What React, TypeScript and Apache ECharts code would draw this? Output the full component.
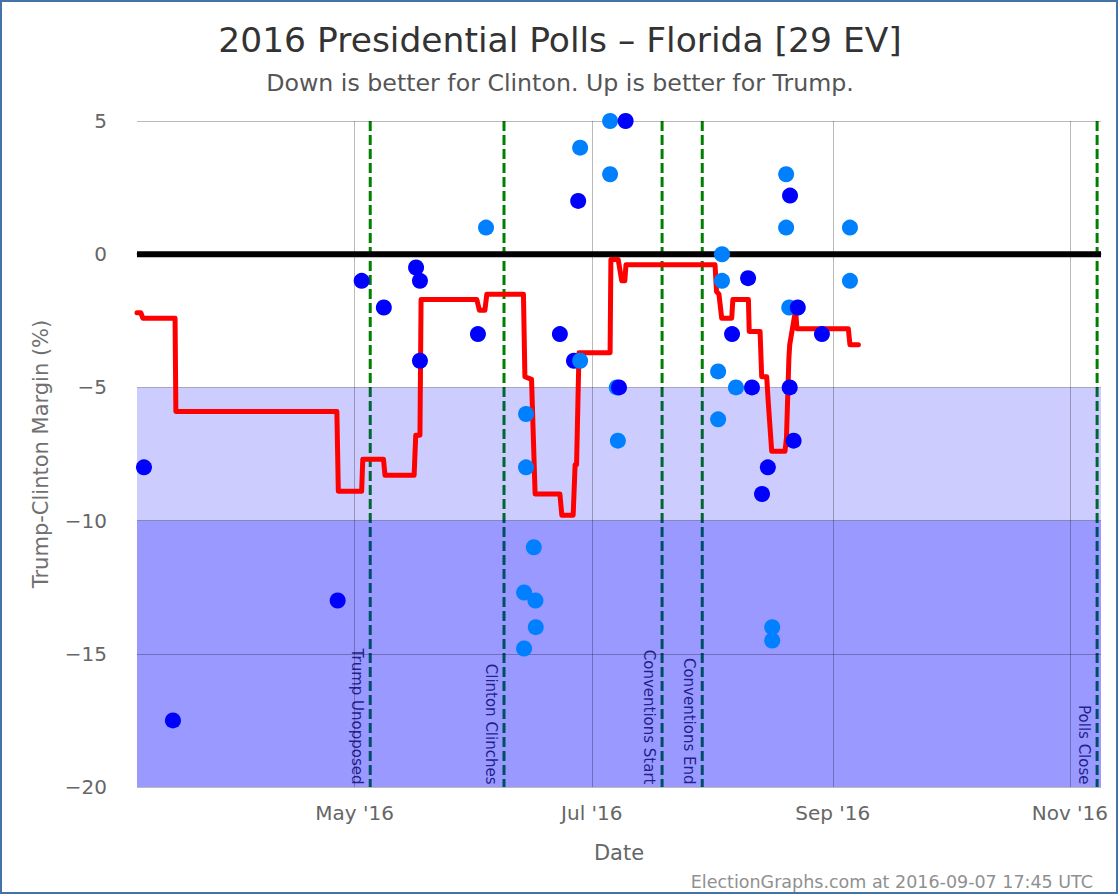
import React, { useEffect, useRef } from 'react';
import * as echarts from 'echarts';

const FONT = "'DejaVu Sans', 'Noto Sans', sans-serif";

const TITLE = '2016 Presidential Polls \u2013 Florida [29 EV]';
const SUBTITLE = 'Down is better for Clinton. Up is better for Trump.';
const FOOTER = 'ElectionGraphs.com at 2016-09-07 17:45 UTC';
const X_NAME = 'Date';
const Y_NAME = 'Trump-Clinton Margin (%)';

const X_MIN = '2016-03-06';
const X_MAX = '2016-11-09';
const MONTH_TICKS = ['2016-05-01', '2016-07-01', '2016-09-01', '2016-11-01'];
const MONTH_NAMES = ['Jan', 'Feb', 'Mar', 'Apr', 'May', 'Jun', 'Jul', 'Aug', 'Sep', 'Oct', 'Nov', 'Dec'];
const Y_MIN = -20;
const Y_MAX = 5;
const Y_STEP = 5;

const BAND_LIGHT = [-5, -10];
const BAND_DARK = [-10, -20];

const EVENT_NAMES = ['Trump Unopposed', 'Clinton Clinches', 'Conventions Start', 'Conventions End', 'Polls Close'];
const EVENT_DATES = ['2016-05-05', '2016-06-08 10', '2016-07-19 02', '2016-07-29 10', '2016-11-08'];

const DARK_DATES = ['2016-03-07 19', '2016-03-15 06', '2016-04-26 15', '2016-05-02 19', '2016-05-08 12', '2016-05-16 19', '2016-05-17 19', '2016-05-17 19', '2016-06-01 17', '2016-06-22 19', '2016-06-26 10', '2016-06-27 12', '2016-07-08 00', '2016-07-09 17', '2016-08-06 02', '2016-08-10 05', '2016-08-11 05', '2016-08-13 19', '2016-08-15 07', '2016-08-20 22', '2016-08-21 00', '2016-08-21 22', '2016-08-23 00', '2016-08-29 05'];
const DARK_VALUES = [-8, -17.5, -13, -1, -2, -0.5, -1, -4, -3, -3, -4, 2, -5, 5, -3, -0.9, -5, -9, -8, -5, 2.2, -7, -2, -3];

const LIGHT_DATES = ['2016-06-03 19', '2016-06-13 14', '2016-06-13 14', '2016-06-14 02', '2016-06-14 02', '2016-06-16 02', '2016-06-16 12', '2016-06-16 14', '2016-06-28 00', '2016-06-28 00', '2016-07-05 17', '2016-07-05 17', '2016-07-07 10', '2016-07-07 17', '2016-08-02 12', '2016-08-02 12', '2016-08-03 12', '2016-08-03 12', '2016-08-07 02', '2016-08-16 10', '2016-08-16 10', '2016-08-20 00', '2016-08-20 00', '2016-08-20 19', '2016-09-05 10', '2016-09-05 10'];
const LIGHT_VALUES = [1, -12.7, -14.8, -6, -8, -11, -13, -14, 4, -4, 5, 3, -5, -7, -4.4, -6.2, 0, -1, -5, -14, -14.5, 3, 1, -2, 1, -1];

const AVG_DATES = ['2016-03-06 00', '2016-03-07 00', '2016-03-07 12', '2016-03-15 19', '2016-03-16 00', '2016-04-26 10', '2016-04-26 19', '2016-05-02 19', '2016-05-03 02', '2016-05-08 10', '2016-05-08 19', '2016-05-16 07', '2016-05-16 17', '2016-05-17 19', '2016-05-18 02', '2016-06-01 10', '2016-06-02 02', '2016-06-03 12', '2016-06-04 00', '2016-06-13 10', '2016-06-13 19', '2016-06-15 12', '2016-06-16 10', '2016-06-22 19', '2016-06-23 07', '2016-06-26 05', '2016-06-26 17', '2016-06-27 02', '2016-06-27 17', '2016-07-05 17', '2016-07-05 22', '2016-07-07 19', '2016-07-08 17', '2016-07-09 12', '2016-07-09 19', '2016-08-01 17', '2016-08-02 02', '2016-08-02 17', '2016-08-03 10', '2016-08-06 00', '2016-08-06 07', '2016-08-10 07', '2016-08-10 12', '2016-08-13 07', '2016-08-13 17', '2016-08-15 00', '2016-08-15 10', '2016-08-16 07', '2016-08-19 17', '2016-08-20 02', '2016-08-20 17', '2016-08-20 22', '2016-08-22 10', '2016-08-22 19', '2016-09-05 00', '2016-09-05 10', '2016-09-07 14'];
const AVG_VALUES = [-2.2, -2.2, -2.4, -2.4, -5.9, -5.9, -8.9, -8.9, -7.7, -7.7, -8.3, -8.3, -6.8, -6.8, -1.7, -1.7, -2.1, -2.1, -1.5, -1.5, -4.6, -4.7, -9.0, -9.0, -9.8, -9.8, -7.9, -7.9, -3.7, -3.7, -0.2, -0.2, -1.0, -1.0, -0.4, -0.4, -1.4, -1.5, -2.4, -2.4, -1.7, -1.7, -2.9, -2.9, -4.6, -4.6, -5.6, -7.4, -7.4, -6.9, -3.9, -3.4, -2.1, -2.8, -2.8, -3.4, -3.4];

const t = (s: string) => {
  const [d, h] = s.split(' ');
  const [y, m, dd] = d.split('-').map(Number);
  return Date.UTC(y, m - 1, dd, h ? Number(h) : 0);
};

export default function App() {
  const ref = useRef<HTMLDivElement>(null);

  useEffect(() => {
    if (!ref.current) return;
    const chart = echarts.init(ref.current, null, { renderer: 'svg' });

    const xMin = t(X_MIN);
    const xMax = t(X_MAX);
    const monthTicks = MONTH_TICKS.map(t);

    const polls = [
      ...DARK_DATES.map((d, i) => ({ ts: t(d), v: DARK_VALUES[i], c: '#0000ff' })),
      ...LIGHT_DATES.map((d, i) => ({ ts: t(d), v: LIGHT_VALUES[i], c: '#0080ff' })),
    ].sort((a, b) => a.ts - b.ts);

    const eventLineSeries = EVENT_DATES.map((d) => ({
      type: 'line',
      z: 0,
      silent: true,
      symbol: 'none',
      data: [[t(d), Y_MAX], [t(d), Y_MIN]],
      lineStyle: { color: '#008000', width: 3, type: [10, 4], opacity: 1 },
    }));

    const option: any = {
      animation: false,
      backgroundColor: '#ffffff',
      textStyle: { fontFamily: FONT },
      title: [
        { text: TITLE, left: 'center', top: 17, textStyle: { fontFamily: FONT, fontSize: 34.5, fontWeight: 'normal', color: '#333333' } },
        { text: SUBTITLE, left: 'center', top: 66, textStyle: { fontFamily: FONT, fontSize: 23.7, fontWeight: 'normal', color: '#555555' } },
        { text: FOOTER, right: 22, top: 868, textStyle: { fontFamily: FONT, fontSize: 17.5, fontWeight: 'normal', color: '#909090' } },
      ],
      graphic: [
        {
          type: 'rect',
          silent: true,
          z: 100,
          shape: { x: 1, y: 1, width: 1116, height: 892 },
          style: { fill: 'none', stroke: '#4572a7', lineWidth: 2 },
        },
      ],
      grid: { left: 137, top: 121, width: 964, height: 666, containLabel: false, outerBoundsMode: 'none' },
      xAxis: {
        type: 'value',
        min: xMin,
        max: xMax,
        z: 3,
        name: X_NAME,
        nameLocation: 'middle',
        nameGap: 55,
        nameTextStyle: { fontFamily: FONT, fontSize: 21, color: '#666666' },
        axisLine: { show: true, lineStyle: { color: '#ccd6eb', width: 2 } },
        axisTick: { show: false, customValues: monthTicks },
        axisLabel: {
          customValues: monthTicks,
          formatter: (v: number) => MONTH_NAMES[new Date(v).getUTCMonth()] + " '16",
          fontFamily: FONT,
          fontSize: 20,
          color: '#666666',
          margin: 16,
        },
        splitLine: { show: true, lineStyle: { color: 'rgba(0,0,0,0.27)', width: 1 } },
      },
      yAxis: {
        type: 'value',
        min: Y_MIN,
        max: Y_MAX,
        interval: Y_STEP,
        z: 3,
        name: Y_NAME,
        nameLocation: 'middle',
        nameGap: 86,
        nameTextStyle: { fontFamily: FONT, fontSize: 21, color: '#707070' },
        axisLine: { show: false },
        axisTick: { show: false },
        axisLabel: {
          formatter: (v: number) => (v < 0 ? '\u2212' + Math.abs(v) : String(v)),
          fontFamily: FONT,
          fontSize: 20,
          color: '#666666',
          margin: 30,
          showMinLabel: true,
          showMaxLabel: true,
        },
        splitLine: { show: true, lineStyle: { color: 'rgba(0,0,0,0.27)', width: 1 } },
      },
      series: [
        ...eventLineSeries,
        {
          type: 'scatter',
          z: 0,
          silent: true,
          symbolSize: 1,
          itemStyle: { color: 'rgba(0,0,0,0)' },
          data: EVENT_DATES.map((d, i) => ({ value: [t(d), Y_MIN], name: EVENT_NAMES[i] })),
          label: {
            show: true,
            formatter: '{b}',
            rotate: -90,
            position: [-5, -2],
            align: 'right',
            verticalAlign: 'top',
            fontFamily: FONT,
            fontSize: 15,
            color: '#000000',
          },
        },
        {
          type: 'line',
          z: 2,
          silent: true,
          symbol: 'none',
          data: [],
          markArea: {
            silent: true,
            z: 2,
            data: [
              [{ yAxis: BAND_LIGHT[0], itemStyle: { color: 'rgba(0,0,255,0.2)' } }, { yAxis: BAND_LIGHT[1] }],
              [{ yAxis: BAND_DARK[0], itemStyle: { color: 'rgba(0,0,255,0.4)' } }, { yAxis: BAND_DARK[1] }],
            ],
          },
        },
        {
          type: 'line',
          z: 4,
          silent: true,
          symbol: 'none',
          data: [[xMin, 0], [xMax, 0]],
          lineStyle: { color: '#000000', width: 6 },
        },
        {
          type: 'line',
          z: 5,
          silent: true,
          symbol: 'none',
          data: AVG_DATES.map((d, i) => [t(d), AVG_VALUES[i]]),
          lineStyle: { color: '#ff0000', width: 5, cap: 'round', join: 'round' },
        },
        {
          type: 'scatter',
          z: 6,
          silent: true,
          symbol: 'circle',
          symbolSize: 16,
          data: polls.map((p) => ({ value: [p.ts, p.v], itemStyle: { color: p.c, opacity: 1 } })),
        },
      ],
    };

    chart.setOption(option);
    return () => chart.dispose();
  }, []);

  return (
    <div
      ref={ref}
      style={{ position: 'absolute', left: 0, top: 0, width: 1120, height: 896 }}
    />
  );
}
